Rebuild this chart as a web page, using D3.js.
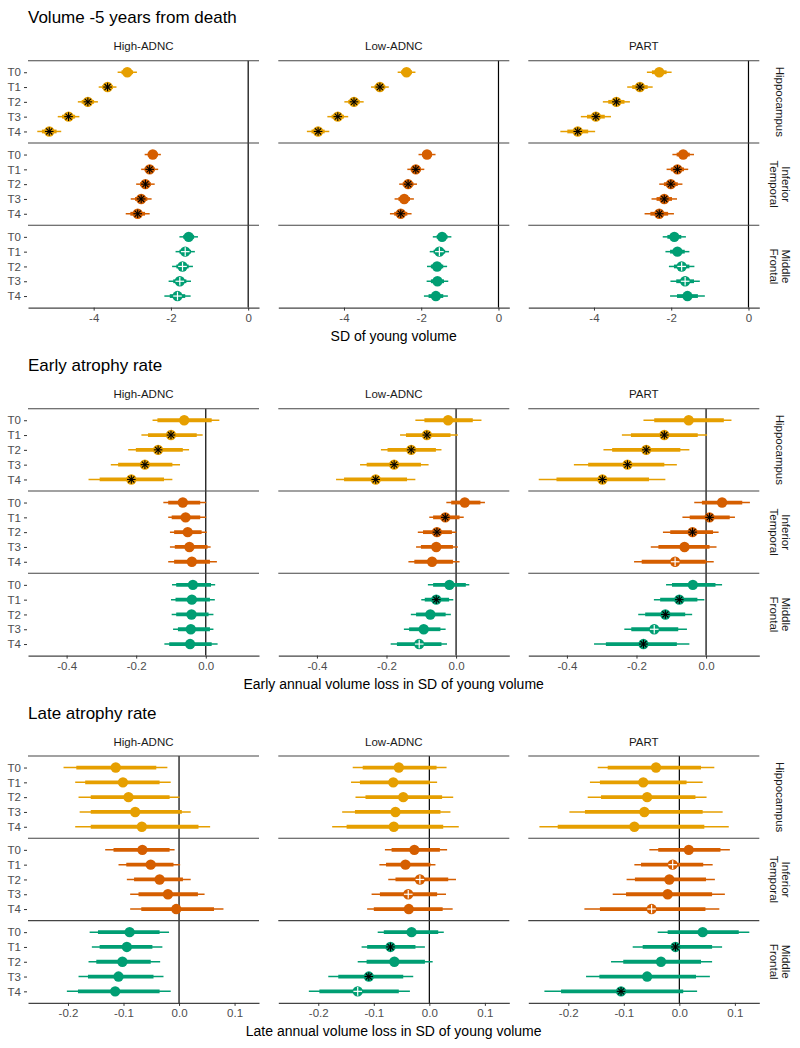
<!DOCTYPE html>
<html>
<head>
<meta charset="utf-8">
<script src="https://cdn.jsdelivr.net/npm/d3@7"></script>
<style>
  body { margin: 0; background: #fff; }
</style>
</head>
<body>
<script>
// Facets
const groups = ['High-ADNC', 'Low-ADNC', 'PART'];
const regions = ['Hippocampus', 'Inferior\nTemporal', 'Middle\nFrontal'];
const times = ['T0', 'T1', 'T2', 'T3', 'T4'];
const regionColors = ['#E69F00', '#D55E00', '#009E73'];

// each row: [lo95, lo66, estimate, hi66, hi95], rows = Hippocampus T0-T4, Inferior Temporal T0-T4, Middle Frontal T0-T4
// marks: 'o' plain, '*' asterisk, '+' plus

// Volume -5 years from death
const volHigh = [
  [-3.38, -3.28, -3.13, -2.98, -2.88], [-3.87, -3.78, -3.64, -3.50, -3.41], [-4.41, -4.31, -4.15, -3.99, -3.89],
  [-4.93, -4.82, -4.65, -4.48, -4.37], [-5.46, -5.34, -5.15, -4.96, -4.84],
  [-2.68, -2.60, -2.47, -2.34, -2.26], [-2.77, -2.68, -2.55, -2.42, -2.33], [-2.90, -2.80, -2.66, -2.52, -2.42],
  [-3.04, -2.93, -2.77, -2.61, -2.50], [-3.17, -3.05, -2.86, -2.67, -2.55],
  [-1.78, -1.68, -1.54, -1.40, -1.30], [-1.88, -1.78, -1.63, -1.48, -1.38], [-1.97, -1.86, -1.70, -1.54, -1.43],
  [-2.06, -1.94, -1.77, -1.60, -1.48], [-2.17, -2.03, -1.83, -1.63, -1.49]
];
const volLow = [
  [-2.61, -2.52, -2.38, -2.24, -2.15], [-3.30, -3.21, -3.07, -2.93, -2.84], [-3.99, -3.89, -3.74, -3.59, -3.49],
  [-4.43, -4.32, -4.16, -4.00, -3.89], [-4.96, -4.84, -4.67, -4.50, -4.38],
  [-2.07, -1.98, -1.85, -1.72, -1.63], [-2.36, -2.27, -2.14, -2.01, -1.92], [-2.57, -2.48, -2.34, -2.20, -2.11],
  [-2.69, -2.59, -2.44, -2.29, -2.19], [-2.81, -2.70, -2.53, -2.36, -2.25],
  [-1.70, -1.60, -1.46, -1.32, -1.22], [-1.78, -1.68, -1.53, -1.38, -1.28], [-1.85, -1.75, -1.59, -1.43, -1.33],
  [-1.86, -1.75, -1.58, -1.41, -1.30], [-1.93, -1.81, -1.62, -1.43, -1.31]
];
const volPart = [
  [-2.63, -2.50, -2.31, -2.12, -1.99], [-3.14, -3.01, -2.81, -2.61, -2.48], [-3.77, -3.63, -3.42, -3.21, -3.07],
  [-4.34, -4.18, -3.95, -3.72, -3.56], [-4.87, -4.69, -4.42, -4.15, -3.97],
  [-1.97, -1.86, -1.69, -1.52, -1.41], [-2.12, -2.01, -1.84, -1.67, -1.56], [-2.31, -2.19, -2.01, -1.83, -1.71],
  [-2.51, -2.38, -2.18, -1.98, -1.85], [-2.69, -2.54, -2.31, -2.08, -1.93],
  [-2.22, -2.10, -1.92, -1.74, -1.62], [-2.15, -2.03, -1.84, -1.65, -1.53], [-2.06, -1.93, -1.73, -1.53, -1.40],
  [-2.02, -1.87, -1.64, -1.41, -1.26], [-2.03, -1.85, -1.58, -1.31, -1.13]
];
const volHighMarks = ['o', '*', '*', '*', '*', 'o', '*', '*', '*', '*', 'o', '+', '+', '+', '+'];
const volLowMarks = ['o', '*', '*', '*', '*', 'o', '*', '*', 'o', '*', 'o', '+', 'o', 'o', 'o'];
const volPartMarks = ['o', '*', '*', '*', '*', 'o', '*', '*', '*', '*', 'o', 'o', '+', '+', 'o'];

// Early atrophy rate
const earlyHigh = [
  [-0.153, -0.139, -0.062, 0.017, 0.039], [-0.185, -0.166, -0.100, -0.026, -0.009], [-0.223, -0.201, -0.137, -0.066, -0.048],
  [-0.273, -0.252, -0.175, -0.096, -0.074], [-0.337, -0.305, -0.214, -0.120, -0.096],
  [-0.122, -0.108, -0.066, -0.016, 0.001], [-0.108, -0.098, -0.058, -0.016, 0.001], [-0.103, -0.091, -0.052, -0.012, 0.003],
  [-0.103, -0.089, -0.047, 0.005, 0.014], [-0.108, -0.091, -0.040, 0.012, 0.032],
  [-0.097, -0.085, -0.037, 0.015, 0.027], [-0.100, -0.087, -0.040, 0.012, 0.026], [-0.098, -0.085, -0.041, 0.008, 0.022],
  [-0.094, -0.080, -0.043, 0.012, 0.022], [-0.119, -0.105, -0.045, 0.017, 0.034]
];
const earlyLow = [
  [-0.117, -0.091, -0.023, 0.048, 0.073], [-0.161, -0.144, -0.084, -0.016, 0.005], [-0.216, -0.197, -0.129, -0.058, -0.042],
  [-0.276, -0.257, -0.178, -0.101, -0.079], [-0.345, -0.322, -0.231, -0.141, -0.117],
  [-0.028, -0.014, 0.025, 0.070, 0.083], [-0.077, -0.066, -0.031, 0.010, 0.022], [-0.110, -0.095, -0.055, -0.012, 0.001],
  [-0.115, -0.101, -0.057, -0.009, 0.005], [-0.137, -0.120, -0.069, -0.009, 0.010],
  [-0.081, -0.066, -0.019, 0.028, 0.038], [-0.100, -0.090, -0.057, -0.020, -0.008], [-0.130, -0.115, -0.074, -0.030, -0.015],
  [-0.150, -0.135, -0.093, -0.045, -0.030], [-0.188, -0.170, -0.106, -0.042, -0.026]
];
const earlyPart = [
  [-0.180, -0.149, -0.050, 0.051, 0.073], [-0.242, -0.216, -0.120, -0.024, 0.003], [-0.295, -0.270, -0.172, -0.074, -0.048],
  [-0.380, -0.339, -0.226, -0.120, -0.084], [-0.481, -0.430, -0.298, -0.164, -0.117],
  [-0.034, -0.012, 0.046, 0.104, 0.126], [-0.068, -0.047, 0.010, 0.068, 0.083], [-0.124, -0.103, -0.039, 0.020, 0.036],
  [-0.159, -0.137, -0.062, 0.010, 0.030], [-0.207, -0.185, -0.089, 0.000, 0.022],
  [-0.115, -0.098, -0.038, 0.027, 0.046], [-0.150, -0.132, -0.077, -0.025, -0.005], [-0.195, -0.175, -0.117, -0.060, -0.040],
  [-0.235, -0.215, -0.149, -0.080, -0.055], [-0.322, -0.288, -0.180, -0.084, -0.048]
];
const earlyHighMarks = ['o', '*', '*', '*', '*', 'o', 'o', 'o', 'o', 'o', 'o', 'o', 'o', 'o', 'o'];
const earlyLowMarks = ['o', '*', '*', '*', '*', 'o', '*', '*', 'o', 'o', 'o', '*', 'o', 'o', '+'];
const earlyPartMarks = ['o', '*', '*', '*', '*', 'o', '*', '*', 'o', '+', 'o', '*', '*', '+', '*'];

// Late atrophy rate
const lateHigh = [
  [-0.208, -0.185, -0.114, -0.041, -0.021], [-0.187, -0.169, -0.101, -0.035, -0.015], [-0.181, -0.159, -0.091, -0.017, 0.001],
  [-0.179, -0.159, -0.079, 0.005, 0.021], [-0.187, -0.159, -0.067, 0.035, 0.056],
  [-0.133, -0.118, -0.066, -0.017, -0.008], [-0.109, -0.095, -0.051, -0.010, 0.002], [-0.094, -0.081, -0.035, 0.007, 0.021],
  [-0.088, -0.073, -0.020, 0.034, 0.046], [-0.088, -0.068, -0.005, 0.063, 0.080],
  [-0.161, -0.146, -0.089, -0.035, -0.018], [-0.157, -0.143, -0.094, -0.048, -0.030], [-0.163, -0.149, -0.102, -0.051, -0.034],
  [-0.181, -0.164, -0.109, -0.046, -0.028], [-0.202, -0.182, -0.115, -0.035, -0.015]
];
const lateLow = [
  [-0.138, -0.120, -0.055, 0.013, 0.031], [-0.141, -0.125, -0.065, 0.001, 0.014], [-0.133, -0.115, -0.047, 0.023, 0.043],
  [-0.157, -0.134, -0.061, 0.020, 0.038], [-0.175, -0.149, -0.064, 0.025, 0.053],
  [-0.080, -0.068, -0.027, 0.019, 0.032], [-0.090, -0.078, -0.043, 0.002, 0.011], [-0.074, -0.061, -0.017, 0.034, 0.048],
  [-0.104, -0.089, -0.038, 0.014, 0.030], [-0.112, -0.100, -0.037, 0.024, 0.042],
  [-0.093, -0.082, -0.032, 0.016, 0.026], [-0.122, -0.112, -0.070, -0.025, -0.008], [-0.129, -0.113, -0.063, -0.008, 0.006],
  [-0.182, -0.164, -0.109, -0.047, -0.029], [-0.217, -0.198, -0.129, -0.055, -0.035]
];
const latePart = [
  [-0.147, -0.129, -0.042, 0.039, 0.063], [-0.161, -0.143, -0.065, 0.013, 0.042], [-0.165, -0.141, -0.058, 0.029, 0.049],
  [-0.198, -0.170, -0.063, 0.042, 0.078], [-0.252, -0.219, -0.081, 0.045, 0.089],
  [-0.054, -0.038, 0.017, 0.074, 0.091], [-0.081, -0.069, -0.012, 0.043, 0.060], [-0.095, -0.080, -0.018, 0.048, 0.064],
  [-0.120, -0.096, -0.021, 0.059, 0.082], [-0.171, -0.143, -0.050, 0.047, 0.072],
  [-0.039, -0.021, 0.042, 0.107, 0.126], [-0.084, -0.066, -0.007, 0.059, 0.077], [-0.123, -0.101, -0.033, 0.039, 0.059],
  [-0.168, -0.144, -0.058, 0.030, 0.055], [-0.243, -0.213, -0.105, 0.007, 0.032]
];
const lateHighMarks = ['o', 'o', 'o', 'o', 'o', 'o', 'o', 'o', 'o', 'o', 'o', 'o', 'o', 'o', 'o'];
const lateLowMarks = ['o', 'o', 'o', 'o', 'o', 'o', 'o', '+', '+', 'o', 'o', '*', 'o', '*', '+'];
const latePartMarks = ['o', 'o', 'o', 'o', 'o', 'o', '+', 'o', 'o', '+', 'o', '*', 'o', 'o', '*'];

// Tick labels
const volTicks = [-4, -2, 0];
const earlyTicks = [-0.4, -0.2, 0];
const lateTicks = [-0.2, -0.1, 0, 0.1];

const panels = [
  {
    title: 'Volume -5 years from death',
    axisTitle: 'SD of young volume',
    domain: [-5.70, 0.28],
    ticks: volTicks,
    fmt: (d) => d.toFixed(0),
    data: [volHigh, volLow, volPart],
    marks: [volHighMarks, volLowMarks, volPartMarks]
  },
  {
    title: 'Early atrophy rate',
    axisTitle: 'Early annual volume loss in SD of young volume',
    domain: [-0.511, 0.153],
    ticks: earlyTicks,
    fmt: (d) => d.toFixed(1),
    data: [earlyHigh, earlyLow, earlyPart],
    marks: [earlyHighMarks, earlyLowMarks, earlyPartMarks]
  },
  {
    title: 'Late atrophy rate',
    axisTitle: 'Late annual volume loss in SD of young volume',
    domain: [-0.272, 0.144],
    ticks: lateTicks,
    fmt: (d) => d.toFixed(1),
    data: [lateHigh, lateLow, latePart],
    marks: [lateHighMarks, lateLowMarks, latePartMarks]
  }
];

// Layout
const width = 800;
const height = 1048;
const colLeft = [28, 278.3, 528.3];
const colW = 231;
const panelTop = [60.7, 408.7, 756];
const rowH = 82.3;

const svg = d3.select('body').append('svg')
  .attr('width', width)
  .attr('height', height)
  .style('font-family', '"Liberation Sans", Arial, Helvetica, sans-serif');

svg.append('rect').attr('width', width).attr('height', height).attr('fill', '#fff');

function drawMark(g, cx, cy, type) {
  const r = 4.3;
  if (type === '*') {
    [0, 45, 90, 135].forEach((a) => {
      const rad = (a * Math.PI) / 180;
      g.append('line')
        .attr('x1', cx - r * Math.cos(rad)).attr('y1', cy - r * Math.sin(rad))
        .attr('x2', cx + r * Math.cos(rad)).attr('y2', cy + r * Math.sin(rad))
        .attr('stroke', '#000').attr('stroke-width', 1.1);
    });
  } else if (type === '+') {
    g.append('line').attr('x1', cx - r).attr('x2', cx + r).attr('y1', cy).attr('y2', cy)
      .attr('stroke', '#fff').attr('stroke-width', 1.2);
    g.append('line').attr('x1', cx).attr('x2', cx).attr('y1', cy - r).attr('y2', cy + r)
      .attr('stroke', '#fff').attr('stroke-width', 1.2);
  }
}

panels.forEach((p, pi) => {
  const top = panelTop[pi];
  const bottom = top + rowH * 3;
  const g = svg.append('g');

  // Title
  g.append('text')
    .attr('x', 28)
    .attr('y', top - 37.5)
    .attr('font-size', 17)
    .attr('fill', '#000')
    .text(p.title);

  groups.forEach((grp, ci) => {
    const x = d3.scaleLinear().domain(p.domain).range([colLeft[ci], colLeft[ci] + colW]);

    // Strip
    g.append('text')
      .attr('x', colLeft[ci] + colW / 2)
      .attr('y', top - 10.5)
      .attr('text-anchor', 'middle')
      .attr('font-size', 11.5)
      .attr('fill', '#1a1a1a')
      .text(grp);

    // Zero line
    g.append('line')
      .attr('x1', x(0)).attr('x2', x(0))
      .attr('y1', top).attr('y2', bottom)
      .attr('stroke', '#000')
      .attr('stroke-width', 1.2);

    regions.forEach((reg, ri) => {
      const y = d3.scalePoint()
        .domain(times)
        .range([top + ri * rowH, top + (ri + 1) * rowH])
        .padding(0.78);

      // Row separator
      g.append('line')
        .attr('x1', colLeft[ci]).attr('x2', colLeft[ci] + colW)
        .attr('y1', top + ri * rowH).attr('y2', top + ri * rowH)
        .attr('stroke', '#444')
        .attr('stroke-width', 1.1);

      // Y axis only on first column
      if (ci === 0) {
        const yAxis = g.append('g')
          .attr('transform', `translate(${colLeft[0] - 1}, 0)`)
          .call(d3.axisLeft(y).tickSize(3).tickPadding(3));
        yAxis.select('.domain').remove();
        yAxis.selectAll('line').attr('stroke', '#333');
        yAxis.selectAll('text')
          .attr('font-size', 11.5)
          .attr('fill', '#4d4d4d')
          .style('font-family', '"Liberation Sans", Arial, sans-serif');
      }

      const rows = p.data[ci].slice(ri * 5, ri * 5 + 5);
      const marks = p.marks[ci].slice(ri * 5, ri * 5 + 5);
      const color = regionColors[ri];

      rows.forEach((d, ti) => {
        const cy = y(times[ti]);
        g.append('line')
          .attr('x1', x(d[0])).attr('x2', x(d[4]))
          .attr('y1', cy).attr('y2', cy)
          .attr('stroke', color)
          .attr('stroke-width', 1.5);
        g.append('line')
          .attr('x1', x(d[1])).attr('x2', x(d[3]))
          .attr('y1', cy).attr('y2', cy)
          .attr('stroke', color)
          .attr('stroke-width', 3.8);
        g.append('circle')
          .attr('cx', x(d[2]))
          .attr('cy', cy)
          .attr('r', 5.2)
          .attr('fill', color);
        drawMark(g, x(d[2]), cy, marks[ti]);
      });
    });

    // Bottom axis
    const xAxis = g.append('g')
      .attr('transform', `translate(0, ${bottom})`)
      .call(d3.axisBottom(x).tickValues(p.ticks).tickSize(3).tickSizeOuter(0).tickPadding(3).tickFormat(p.fmt));
    xAxis.select('.domain').attr('stroke', '#444').attr('stroke-width', 1.1);
    xAxis.selectAll('line').attr('stroke', '#333');
    xAxis.selectAll('text')
      .attr('font-size', 11.5)
      .attr('fill', '#4d4d4d')
      .style('font-family', '"Liberation Sans", Arial, sans-serif');
  });

  // Right strips
  regions.forEach((reg, ri) => {
    const cy = top + (ri + 0.5) * rowH;
    const lines = reg.split('\n');
    const t = g.append('text')
      .attr('transform', `translate(780, ${cy}) rotate(90)`)
      .attr('text-anchor', 'middle')
      .attr('font-size', 11.5)
      .attr('fill', '#1a1a1a');
    lines.forEach((l, i) => {
      t.append('tspan')
        .attr('x', 0)
        .attr('dy', i === 0 ? `${0.35 - (lines.length - 1) * 0.55}em` : '1.1em')
        .text(l);
    });
  });

  // Axis title
  g.append('text')
    .attr('x', (colLeft[0] + colLeft[2] + colW) / 2)
    .attr('y', bottom + 33)
    .attr('text-anchor', 'middle')
    .attr('font-size', 14)
    .attr('fill', '#000')
    .text(p.axisTitle);
});
</script>
</body>
</html>
